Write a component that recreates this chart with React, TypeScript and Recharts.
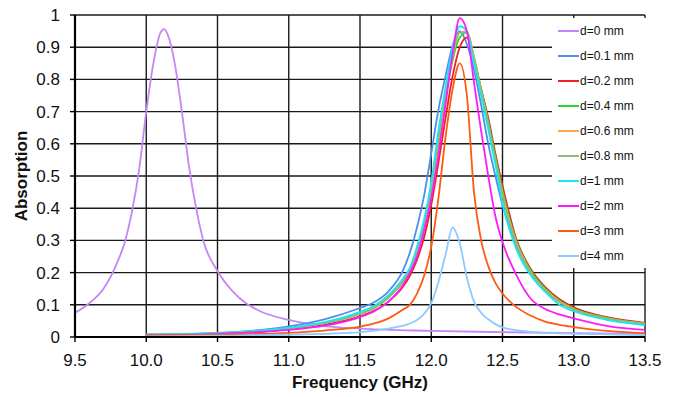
import React from "react";
import { CartesianGrid, Label, Line, LineChart, XAxis, YAxis } from "recharts";

// frequency grid (GHz) for the d=0 curve and for the others
const freqD0 = [
  9.5, 9.6, 9.7, 9.8, 9.85, 9.9, 9.95, 10.0, 10.05, 10.1, 10.125, 10.15, 10.2, 10.25,
  10.3, 10.35, 10.4, 10.5, 10.6, 10.7, 10.8, 11.0, 11.25, 11.5, 12.0, 12.5, 13.0, 13.5,
];
const freqMain = [
  10.0, 10.5, 11.0, 11.25, 11.5, 11.6, 11.7, 11.8, 11.85, 11.9, 11.95, 12.0, 12.05, 12.1,
  12.15, 12.2, 12.25, 12.3, 12.35, 12.4, 12.45, 12.5, 12.6, 12.7, 12.8, 12.9, 13.0, 13.25, 13.5,
];

// absorption
const absD0 = [
  0.075, 0.105, 0.15, 0.235, 0.295, 0.39, 0.52, 0.7, 0.85, 0.945, 0.956, 0.94, 0.85, 0.7,
  0.53, 0.4, 0.3, 0.205, 0.145, 0.105, 0.08, 0.053, 0.034, 0.026, 0.019, 0.015, 0.012, 0.01,
];
const absD01 = [
  0.008, 0.013, 0.033, 0.055, 0.09, 0.108, 0.142, 0.205, 0.262, 0.34, 0.44, 0.57, 0.705, 0.81,
  0.905, 0.95, 0.91, 0.83, 0.72, 0.6, 0.5, 0.41, 0.28, 0.2, 0.145, 0.11, 0.088, 0.056, 0.038,
];
const absD02 = [
  0.006, 0.01, 0.024, 0.038, 0.064, 0.082, 0.11, 0.155, 0.19, 0.24, 0.31, 0.41, 0.54, 0.68,
  0.81, 0.9, 0.93, 0.86, 0.77, 0.68, 0.57, 0.47, 0.3, 0.21, 0.155, 0.117, 0.092, 0.06, 0.044,
];
const absD04 = [
  0.007, 0.011, 0.027, 0.043, 0.072, 0.09, 0.122, 0.17, 0.205, 0.26, 0.34, 0.455, 0.6, 0.74,
  0.86, 0.93, 0.945, 0.87, 0.77, 0.67, 0.56, 0.455, 0.295, 0.205, 0.15, 0.113, 0.088, 0.058, 0.042,
];
const absD06 = [
  0.007, 0.011, 0.027, 0.043, 0.073, 0.091, 0.124, 0.172, 0.207, 0.265, 0.345, 0.46, 0.61, 0.75,
  0.875, 0.945, 0.95, 0.865, 0.765, 0.66, 0.55, 0.445, 0.29, 0.2, 0.147, 0.11, 0.086, 0.056, 0.041,
];
const absD08 = [
  0.007, 0.011, 0.027, 0.043, 0.073, 0.091, 0.125, 0.174, 0.21, 0.268, 0.35, 0.465, 0.615, 0.755,
  0.88, 0.945, 0.945, 0.86, 0.76, 0.655, 0.545, 0.44, 0.285, 0.198, 0.145, 0.108, 0.085, 0.055, 0.04,
];
const absD1 = [
  0.007, 0.012, 0.029, 0.046, 0.078, 0.097, 0.13, 0.18, 0.215, 0.28, 0.365, 0.48, 0.64, 0.775,
  0.9, 0.965, 0.95, 0.85, 0.75, 0.645, 0.535, 0.415, 0.27, 0.19, 0.14, 0.1, 0.08, 0.052, 0.037,
];
const absD2 = [
  0.005, 0.01, 0.022, 0.035, 0.062, 0.08, 0.11, 0.16, 0.2, 0.25, 0.33, 0.43, 0.565, 0.72,
  0.88, 0.99, 0.95, 0.79, 0.64, 0.5, 0.375, 0.295, 0.19, 0.118, 0.087, 0.07, 0.058, 0.033, 0.022,
];
const absD3 = [
  0.004, 0.007, 0.013, 0.02, 0.032, 0.042, 0.058, 0.085, 0.1, 0.135, 0.19, 0.28, 0.43, 0.62,
  0.77, 0.85, 0.75, 0.45, 0.3, 0.22, 0.168, 0.135, 0.092, 0.066, 0.048, 0.038, 0.031, 0.018, 0.012,
];
const absD4 = [
  0.002, 0.004, 0.007, 0.01, 0.015, 0.02, 0.026, 0.035, 0.042, 0.053, 0.072, 0.105, 0.17, 0.255,
  0.34, 0.29, 0.185, 0.11, 0.075, 0.055, 0.04, 0.03, 0.021, 0.016, 0.013, 0.011, 0.01, 0.008, 0.006,
];

const xTicks = [9.5, 10.0, 10.5, 11.0, 11.5, 12.0, 12.5, 13.0, 13.5];
const yTicks = [0, 0.1, 0.2, 0.3, 0.4, 0.5, 0.6, 0.7, 0.8, 0.9, 1];

const series = [
  { name: "d=0 mm", color: "#c586f7", freq: freqD0, values: absD0 },
  { name: "d=0.1 mm", color: "#4f8fea", freq: freqMain, values: absD01 },
  { name: "d=0.2 mm", color: "#ee2020", freq: freqMain, values: absD02 },
  { name: "d=0.4 mm", color: "#2fd12f", freq: freqMain, values: absD04 },
  { name: "d=0.6 mm", color: "#ffa64d", freq: freqMain, values: absD06 },
  { name: "d=0.8 mm", color: "#8fb97a", freq: freqMain, values: absD08 },
  { name: "d=1 mm", color: "#19e6f0", freq: freqMain, values: absD1 },
  { name: "d=2 mm", color: "#ff19ff", freq: freqMain, values: absD2 },
  { name: "d=3 mm", color: "#ff5a0f", freq: freqMain, values: absD3 },
  { name: "d=4 mm", color: "#8ccaff", freq: freqMain, values: absD4 },
];

const FONT = "'Liberation Sans', Arial, sans-serif";

export default function App() {
  return (
    <div
      style={{
        position: "absolute",
        left: 0,
        top: 0,
        width: 675,
        height: 397,
        background: "#fff",
        fontFamily: FONT,
      }}
    >
      <LineChart width={675} height={397} margin={{ top: 15, right: 30, bottom: 0, left: 0 }}>
        <CartesianGrid stroke="#1a1a1a" strokeWidth={1.4} />
        <XAxis
          type="number"
          dataKey="f"
          domain={[9.5, 13.5]}
          ticks={xTicks}
          allowDataOverflow
          height={60}
          tickFormatter={(v: number) => v.toFixed(1)}
          tick={{ fill: "#111", fontSize: 17, fontFamily: FONT }}
          tickSize={5}
          tickMargin={12}
          axisLine={{ stroke: "#000", strokeWidth: 2.2 }}
          tickLine={{ stroke: "#000", strokeWidth: 1.4 }}
        >
          <Label
            value="Frequency (GHz)"
            position="insideBottom"
            offset={9}
            style={{ fontWeight: 700, fontSize: 17, fill: "#111", fontFamily: FONT }}
          />
        </XAxis>
        <YAxis
          type="number"
          domain={[0, 1]}
          ticks={yTicks}
          allowDataOverflow
          width={75}
          tickFormatter={(v: number) => String(v)}
          tick={{ fill: "#111", fontSize: 17, fontFamily: FONT }}
          tickSize={5}
          tickMargin={10}
          axisLine={{ stroke: "#000", strokeWidth: 2.2 }}
          tickLine={{ stroke: "#000", strokeWidth: 1.4 }}
        >
          <Label
            value="Absorption"
            angle={-90}
            position="insideLeft"
            offset={21}
            style={{ textAnchor: "middle", fontWeight: 700, fontSize: 17, fill: "#111", fontFamily: FONT }}
          />
        </YAxis>
        {series.map((s) => (
          <Line
            key={s.name}
            data={s.freq.map((f, i) => ({ f, v: s.values[i] }))}
            dataKey="v"
            name={s.name}
            type="monotone"
            stroke={s.color}
            strokeWidth={1.8}
            dot={false}
            activeDot={false}
            isAnimationActive={false}
          />
        ))}
      </LineChart>
      <div
        style={{
          position: "absolute",
          left: 552,
          top: 18,
          width: 95,
          height: 250,
          background: "#fff",
        }}
      >
        {series.map((s) => (
          <div
            key={s.name}
            style={{ display: "flex", alignItems: "center", height: 25, fontSize: 12, color: "#111" }}
          >
            <span
              style={{ display: "inline-block", width: 21, height: 2, background: s.color, marginLeft: 6 }}
            />
            <span style={{ marginLeft: 1 }}>{s.name}</span>
          </div>
        ))}
      </div>
    </div>
  );
}
